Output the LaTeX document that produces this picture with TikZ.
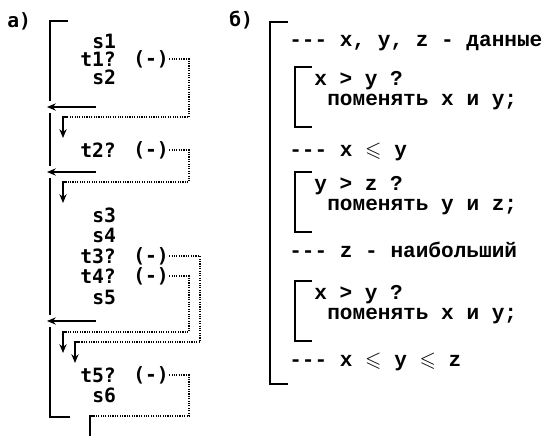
\documentclass[tikz,border=0pt]{standalone}
\usepackage{fontspec}
\usepackage{amssymb}
\newfontfamily\leftfont{DejaVu Sans Mono}[Ligatures=TeXOff]
\newfontfamily\rightfont{Liberation Mono}[Ligatures=TeXOff]
\usetikzlibrary{arrows.meta, calc}

\begin{document}
\begin{tikzpicture}[
    x=0.025cm, y=-0.025cm,
    every node/.style={inner sep=0pt, anchor=west},
    ltext/.style={font=\leftfont\bfseries\fontsize{14}{15}\selectfont},
    rtext/.style={font=\rightfont\bfseries\fontsize{15}{16}\selectfont},
    frame/.style={line width=1.1pt, line join=miter},
    loop/.style={line width=1pt, dash pattern=on 0.8pt off 0.9pt},
    exit/.style={line width=0.9pt, -{Stealth[length=2.2mm, width=1.8mm]}},
    enter/.style={line width=1.1pt, line join=miter, -{Stealth[length=2.2mm, width=1.8mm]}}
]
\useasboundingbox (0,0) rectangle (552,436);

% ============ LEFT: a) ============
\node[ltext] (la) at (7,21) {а)};

% Outer bracket (broken at exits)
\draw[frame] (68,21) -- (50,21) -- (50,101);
\draw[frame] (50,113) -- (50,166);
\draw[frame] (50,178) -- (50,315);
\draw[frame] (50,327) -- (50,417) -- (70,417);

% Statements
\node[ltext] (s1) at (92,41) {s1};
\node[ltext] (t1) at (80,59) {t1?};
\node[ltext] (m1) at (133,59) {(-)};
\node[ltext] (s2) at (92,77) {s2};
\node[ltext] (t2) at (80,150) {t2?};
\node[ltext] (m2) at (133,150) {(-)};
\node[ltext] (s3) at (92,215) {s3};
\node[ltext] (s4) at (92,235) {s4};
\node[ltext] (t3) at (80,256) {t3?};
\node[ltext] (m3) at (133,256) {(-)};
\node[ltext] (t4) at (80,276) {t4?};
\node[ltext] (m4) at (133,276) {(-)};
\node[ltext] (s5) at (92,297) {s5};
\node[ltext] (t5) at (80,375) {t5?};
\node[ltext] (m5) at (133,375) {(-)};
\node[ltext] (s6) at (92,395) {s6};

% Exits to the bracket
\foreach \y [count=\i] in {107,172,321} {
    \coordinate (xa\i) at (96,\y);
    \coordinate (xb\i) at (47,\y);
    \draw[exit] (xa\i) -- (xb\i);
}

% Jumps (dotted) and entries
\coordinate (c1) at (63,117);  \coordinate (d1) at (63,138);
\coordinate (c2) at (63,182);  \coordinate (d2) at (63,203);
\coordinate (c3) at (75,342);  \coordinate (d3) at (75,363);
\coordinate (c4) at (63,332);  \coordinate (d4) at (63,353);
\coordinate (c5) at (90,416);  \coordinate (d5) at (90,436);

\draw[loop] (m1.east) -| (189,117) -- ($(c1)+(4,0)$);
\draw[loop] (m2.east) -| (189,182) -- ($(c2)+(4,0)$);
\draw[loop] (m3.east) -| (200,342) -- ($(c3)+(4,0)$);
\draw[loop] (m4.east) -| (189,332) -- ($(c4)+(4,0)$);
\draw[loop] (m5.east) -| (189,416) -- ($(c5)+(4,0)$);

\foreach \i in {1,...,4} {
    \draw[enter] ($(c\i)+(4,0)$) -- (c\i) -- (d\i);
}
\draw[frame] ($(c5)+(4,0)$) -- (c5) -- (d5);

% ============ RIGHT: b) ============
\node[ltext] (lb) at (229,20) {б)};

% Outer bracket
\draw[frame] (288,22) -- (270,22) -- (270,384) -- (288,384);

% Assertions
\node[rtext] (r1) at (289,43) {--- x, y, z - данные};
\node[rtext] (r2) at (289,152) {--- x $\leqslant$ y};
\node[rtext] (r3) at (289,250) {--- z - наибольший};
\node[rtext] (r4) at (289,362) {--- x $\leqslant$ y $\leqslant$ z};

% Inner brackets with swaps
\foreach \top/\cnd/\act [count=\i] in {67/x > y ?/поменять x и y;, 172/y > z ?/поменять y и z;, 281/x > y ?/поменять x и y;} {
    \draw[frame] (312,\top) -- (295,\top) -- (295,\top+60) -- (312,\top+60);
    \node[rtext] (q\i) at (314,\top+14) {\cnd};
    \node[rtext] (p\i) at (327,\top+35) {\act};
}

\end{tikzpicture}
\end{document}
